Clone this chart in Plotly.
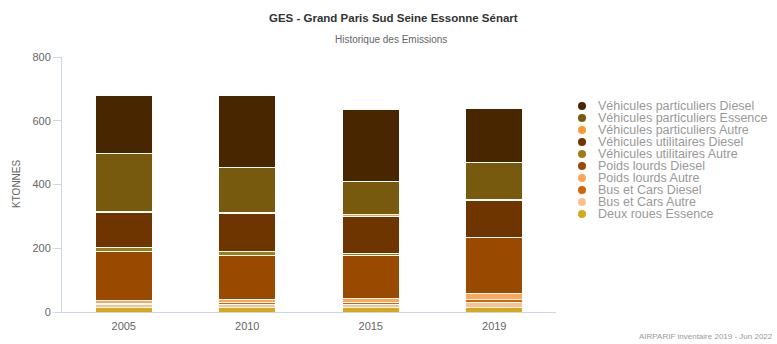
import plotly.graph_objects as go

years = ["2005", "2010", "2015", "2019"]

series_names = [
    "Véhicules particuliers Diesel",
    "Véhicules particuliers Essence",
    "Véhicules particuliers Autre",
    "Véhicules utilitaires Diesel",
    "Véhicules utilitaires Autre",
    "Poids lourds Diesel",
    "Poids lourds Autre",
    "Bus et Cars Diesel",
    "Bus et Cars Autre",
    "Deux roues Essence",
]

vp_diesel = [183, 226, 226, 169]
vp_essence = [181, 140, 104, 115]
vp_autre = [4, 4, 4, 4]
vu_diesel = [110, 118, 118, 115]
vu_autre = [10, 13, 5, 1]
pl_diesel = [156, 139, 137, 176]
pl_autre = [9, 10, 10, 17]
bus_diesel = [4, 7, 8, 11]
bus_autre = [8, 8, 9, 14]
deux_roues = [14, 14, 14, 15]

series_values = [vp_diesel, vp_essence, vp_autre, vu_diesel, vu_autre,
                 pl_diesel, pl_autre, bus_diesel, bus_autre, deux_roues]

colors = ["#482600", "#785A0E", "#FF9A33", "#6E3500", "#A07C14",
          "#9A4A00", "#FFA55A", "#D0660A", "#FFC090", "#D8A81A"]

y_ticks = [0, 200, 400, 600, 800]

title = "GES - Grand Paris Sud Seine Essonne Sénart"
subtitle = "Historique des Emissions"
y_title = "KTONNES"
credits = "AIRPARIF inventaire 2019 - Jun 2022"

FONT = "Liberation Sans, Arial, sans-serif"

fig = go.Figure()
# Stack bottom-up: last legend item at the bottom
for name, vals, col in reversed(list(zip(series_names, series_values, colors))):
    fig.add_trace(go.Bar(
        x=years, y=vals, name=name,
        marker=dict(color=col, line=dict(color="#ffffff", width=1)),
        showlegend=False,
    ))

# plot area geometry (pixels) for manual legend placement
L, R, T, B = 62, 221, 57, 32
W = 777 - L - R
H = 344 - T - B

def px_x(p):
    return (p - L) / W

def px_y(p):
    return (344 - B - p) / H

shapes = []
annotations = []
for i, (name, col) in enumerate(zip(series_names, colors)):
    cy = 106 + 12 * i
    shapes.append(dict(
        type="circle", xref="paper", yref="paper",
        xsizemode="pixel", ysizemode="pixel",
        xanchor=px_x(582), yanchor=px_y(cy),
        x0=-4, x1=4, y0=-4, y1=4,
        fillcolor=col, line=dict(width=0),
    ))
    annotations.append(dict(
        text=name, xref="paper", yref="paper",
        x=px_x(596), y=px_y(cy), xanchor="left", yanchor="middle",
        showarrow=False,
        font=dict(family=FONT, size=12.5, color="#999999"),
    ))

annotations.append(dict(
    text="<b>" + title + "</b>", xref="paper", yref="paper",
    x=px_x(393), y=px_y(18), xanchor="center", yanchor="middle", showarrow=False,
    font=dict(family=FONT, size=11.5, color="#333333"),
))
annotations.append(dict(
    text=subtitle, xref="paper", yref="paper",
    x=px_x(391), y=px_y(39), xanchor="center", yanchor="middle", showarrow=False,
    font=dict(family=FONT, size=10, color="#666666"),
))
annotations.append(dict(
    text=y_title, xref="paper", yref="paper", textangle=-90,
    x=px_x(16), y=px_y(184), xanchor="center", yanchor="middle", showarrow=False,
    font=dict(family=FONT, size=10, color="#666666"),
))
annotations.append(dict(
    text=credits, xref="paper", yref="paper",
    x=px_x(775), y=px_y(336), xanchor="right", yanchor="middle", showarrow=False,
    font=dict(family=FONT, size=8, color="#999999"),
))

fig.update_layout(
    width=777, height=344,
    margin=dict(l=L, r=R, t=T, b=B, autoexpand=False),
    barmode="stack", bargap=0.535,
    plot_bgcolor="#ffffff", paper_bgcolor="#ffffff",
    showlegend=False,
    shapes=shapes, annotations=annotations,
    xaxis=dict(
        type="category", showline=True, linecolor="#ccd6eb", linewidth=1,
        ticks="", showgrid=False, zeroline=False, ticklabelstandoff=4,
        tickfont=dict(family=FONT, size=11, color="#666666"),
    ),
    yaxis=dict(
        range=[0, 800], tickvals=y_ticks, showline=True, linecolor="#ccd6eb",
        linewidth=1, ticks="outside", ticklen=8, tickcolor="#ccd6eb",
        showgrid=False, zeroline=False,
        tickfont=dict(family=FONT, size=11, color="#666666"),
    ),
)

fig.write_html("out.html", config={"displayModeBar": False},
               post_script="document.body.style.margin='0px';")
